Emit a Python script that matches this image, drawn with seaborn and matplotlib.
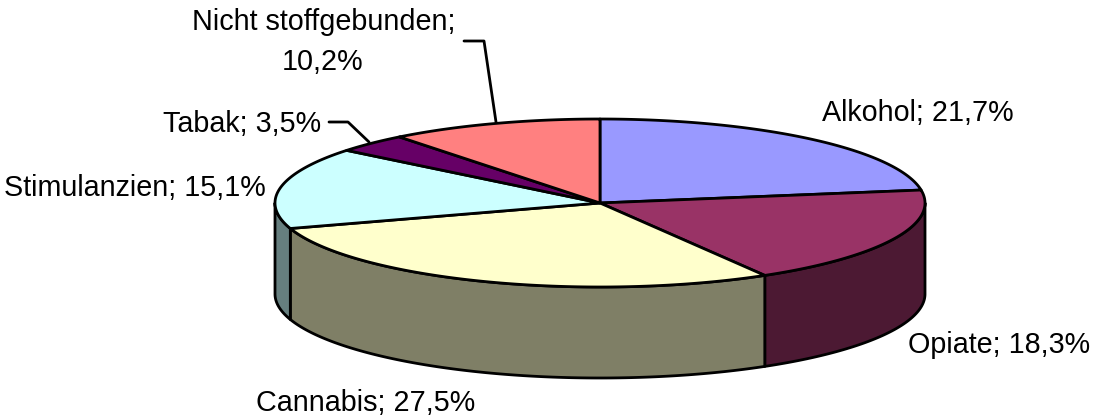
import numpy as np
import matplotlib
matplotlib.use("Agg")
import matplotlib.pyplot as plt
import seaborn as sns

categories = ["Alkohol", "Opiate", "Cannabis", "Stimulanzien", "Tabak", "Nicht stoffgebunden"]
values = [21.7, 18.3, 27.5, 15.1, 3.5, 10.2]
top_colors = ["#9999FF", "#993366", "#FFFFCC", "#CCFFFF", "#660066", "#FF8080"]
side_colors = ["#4C4C7F", "#4C1933", "#7F7F66", "#667F7F", "#330033", "#7F4040"]

sns.set_theme(style="white")
plt.rcParams["font.family"] = ["Liberation Sans", "DejaVu Sans"]

top_pal = sns.color_palette(top_colors)
side_pal = sns.color_palette(side_colors)

# ellipse of the pie in pixels
cx, cy = 600, 203
rx, ry = 325, 84
depth = 91
lw = 2.0


def rim(a, b, dy=0.0):
    t = np.radians(np.linspace(a, b, 120))
    return cx + rx * np.sin(t), cy - ry * np.cos(t) + dy


fig = plt.figure(figsize=(10.97, 4.2), dpi=100)
ax = fig.add_axes([0, 0, 1, 1])
ax.set_xlim(0, 1097)
ax.set_ylim(420, 0)
ax.axis("off")

# cumulative angles, clockwise from the top
edges = np.concatenate([[0], np.cumsum(values)]) / sum(values) * 360

# outer wall, only the front half shows
for i in range(len(values)):
    a = max(edges[i], 90)
    b = min(edges[i + 1], 270)
    if a >= b:
        continue
    x1, y1 = rim(a, b)
    x2, y2 = rim(b, a, depth)
    ax.fill(np.r_[x1, x2], np.r_[y1, y2], facecolor=side_pal[i],
            edgecolor="black", linewidth=lw, joinstyle="round")

# top face
for i in range(len(values)):
    x, y = rim(edges[i], edges[i + 1])
    ax.fill(np.r_[cx, x], np.r_[cy, y], facecolor=top_pal[i],
            edgecolor="black", linewidth=lw, joinstyle="round")

# leader lines
ax.plot([464, 484, 496], [41, 41, 122], color="black", lw=lw)
ax.plot([329, 348, 369], [122, 122, 142], color="black", lw=lw)

fs = 20.7
label_pos = [(822, 121), (908, 353), (256, 411), (4, 196), (163, 132)]
for i, (tx, ty) in enumerate(label_pos):
    txt = f"{categories[i]}; {values[i]:.1f}%".replace(".", ",")
    ax.text(tx, ty, txt, fontsize=fs, color="black", ha="left", va="baseline")

# last label runs over two lines
ax.text(324, 30, categories[5] + ";", fontsize=fs, color="black", ha="center", va="baseline")
ax.text(323, 70, f"{values[5]:.1f}%".replace(".", ","), fontsize=fs, color="black", ha="center", va="baseline")

fig.savefig("out.png", dpi=100, facecolor="white")
